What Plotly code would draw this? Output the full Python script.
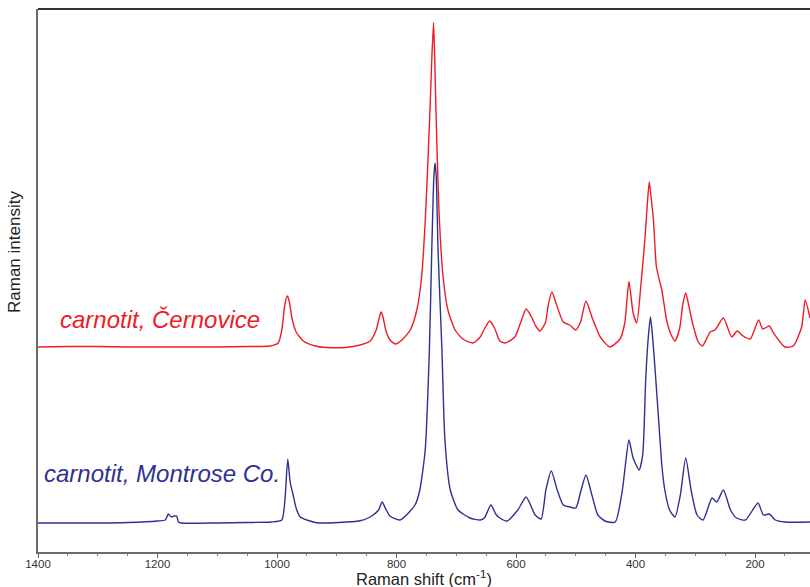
import plotly.graph_objects as go

# Raman shift (cm-1) and intensity (a.u., with vertical offset)
red_x = [1400, 1350, 1300, 1250, 1200, 1150, 1100, 1050, 1012, 998, 992, 987, 983, 980, 975, 968,
         956, 936, 916, 886, 861, 844, 834, 829, 826, 823, 818, 811, 802, 791, 777, 766, 758, 751,
         744, 741, 738, 736, 734, 729, 722, 714, 702, 689, 672, 660, 652, 644, 636, 627, 618, 602,
         592, 583, 574, 567, 560, 551, 546, 540, 532, 521, 510, 500, 492, 483, 473, 459, 443, 426,
         418, 411, 404, 398, 391, 384, 380, 377, 374, 370, 365, 356, 348, 341, 334, 326, 321, 316,
         311, 305, 295, 288, 275, 267, 253, 239, 230, 220, 208, 194, 187, 176, 169, 150, 136, 122,
         116, 108]
red_y = [205, 205.5, 205.5, 205, 205, 205, 205, 205.5, 206, 209, 222, 247, 256, 252, 234, 220,
         211, 206, 204.5, 204.5, 207, 211, 222, 234, 240, 236, 222, 212, 208, 212, 222, 242, 275, 342,
         442, 492, 529.5, 492, 442, 342, 275, 242, 222, 213, 209, 215, 224, 231, 224, 211, 209, 215,
         230, 243, 235, 226, 221, 229, 247, 260, 247, 230, 227, 222, 230, 251, 235, 215, 205, 213,
         229, 270.5, 239, 229, 267, 315, 350, 370, 355, 332, 285, 262, 232, 218, 211, 224, 247, 259,
         247, 230, 210, 206, 220, 222, 234, 215, 221, 216, 213, 232, 223, 226, 219, 205, 206, 225,
         252, 234]

blue_x = [1400, 1300, 1250, 1200, 1187, 1182, 1179, 1176, 1172, 1168, 1165, 1160, 1100, 1050, 1010,
          992, 987, 982, 978, 973, 967, 961, 934, 861, 844, 830, 824, 818, 811, 794, 769, 761, 752,
          745, 741, 737.5, 735.5, 733.5, 730.5, 724, 719, 710, 697, 677, 660, 653, 642, 634, 627,
          615, 597, 583, 568, 558, 550, 541, 531, 521, 510, 500, 491, 483, 473, 463, 451, 434, 422,
          417, 411, 404, 394, 388, 383, 379, 375, 371, 366, 359, 356, 351, 343, 334, 325, 316, 307,
          297, 287, 272, 264, 253, 241, 231, 216, 195, 186, 176, 166, 150, 108]
blue_y = [29, 29, 29.5, 31, 32, 38, 36, 35, 36, 36, 30, 29, 29, 29.5, 30,
          32, 50, 92.7, 70, 57, 42, 35, 29.3, 31.3, 35, 42, 50, 43, 36, 32, 47, 62, 102,
          202, 302, 375, 389, 375, 302, 202, 112, 62, 42, 34, 32, 34, 47, 38, 34,
          31, 42, 55, 37, 33, 62, 81, 62, 47, 45, 44, 62, 77, 57, 37, 31, 30, 62,
          87, 112, 94, 82, 97, 172, 212, 235, 212, 172, 112, 87, 62, 42, 35, 57, 94, 62,
          37, 32, 54, 50, 62, 42, 34, 32, 49, 37, 38, 32, 30, 30]

tick_vals = [1400, 1200, 1000, 800, 600, 400, 200]
label_red = "carnotit, Černovice"
label_blue = "carnotit, Montrose Co."

RED = "#ee1c25"
BLUE = "#2e3192"
FONT = "Liberation Sans, Arial, sans-serif"

fig = go.Figure()
fig.add_trace(go.Scatter(x=red_x, y=red_y, mode="lines",
                         line=dict(color=RED, width=1.4, shape="spline", smoothing=0.6),
                         hoverinfo="skip", showlegend=False))
fig.add_trace(go.Scatter(x=blue_x, y=blue_y, mode="lines",
                         line=dict(color=BLUE, width=1.4, shape="spline", smoothing=0.6),
                         hoverinfo="skip", showlegend=False))

fig.update_layout(
    width=810, height=587,
    margin=dict(l=38, r=0, t=9, b=35),
    paper_bgcolor="white", plot_bgcolor="white",
    font=dict(family=FONT, color="#222"),
    xaxis=dict(range=[1400, 108], tickvals=tick_vals, ticks="outside", ticklen=4,
               tickcolor="#666", tickwidth=1, showline=True, linecolor="#6a6a6a", linewidth=1.5,
               showgrid=False, zeroline=False, tickfont=dict(size=11.5, color="#333"),
               ticklabelstandoff=-4,
               minor=dict(dtick=50, tick0=0, ticks="outside", ticklen=2, tickcolor="#888", showgrid=False)),
    yaxis=dict(range=[0, 543], showticklabels=False, ticks="", showline=True, linecolor="#6a6a6a",
               linewidth=1.5, showgrid=False, zeroline=False),
    shapes=[dict(type="line", xref="paper", yref="paper", x0=0, x1=1, y0=1, y1=1,
                 line=dict(color="#333", width=2))],
    annotations=[
        dict(x=1367, y=233, xref="x", yref="y", text="<i>" + label_red + "</i>", showarrow=False,
             xanchor="left", yanchor="middle", font=dict(size=24, color=RED, family=FONT)),
        dict(x=1393, y=79, xref="x", yref="y", text="<i>" + label_blue + "</i>", showarrow=False,
             xanchor="left", yanchor="middle", font=dict(size=24, color=BLUE, family=FONT)),
        dict(x=0.5, y=-0.047, xref="paper", yref="paper", text="Raman shift (cm<sup>-1</sup>)",
             showarrow=False, xanchor="center", yanchor="middle", borderpad=0,
             font=dict(size=16.5, color="#222")),
        dict(x=-0.0298, y=0.5525, xref="paper", yref="paper", text="Raman intensity",
             showarrow=False, textangle=-90, xanchor="center", yanchor="middle",
             font=dict(size=17, color="#222")),
    ],
)

fig.write_html("out.html", config={"displayModeBar": False},
               post_script="document.body.style.margin='0';document.body.style.overflow='hidden';")
